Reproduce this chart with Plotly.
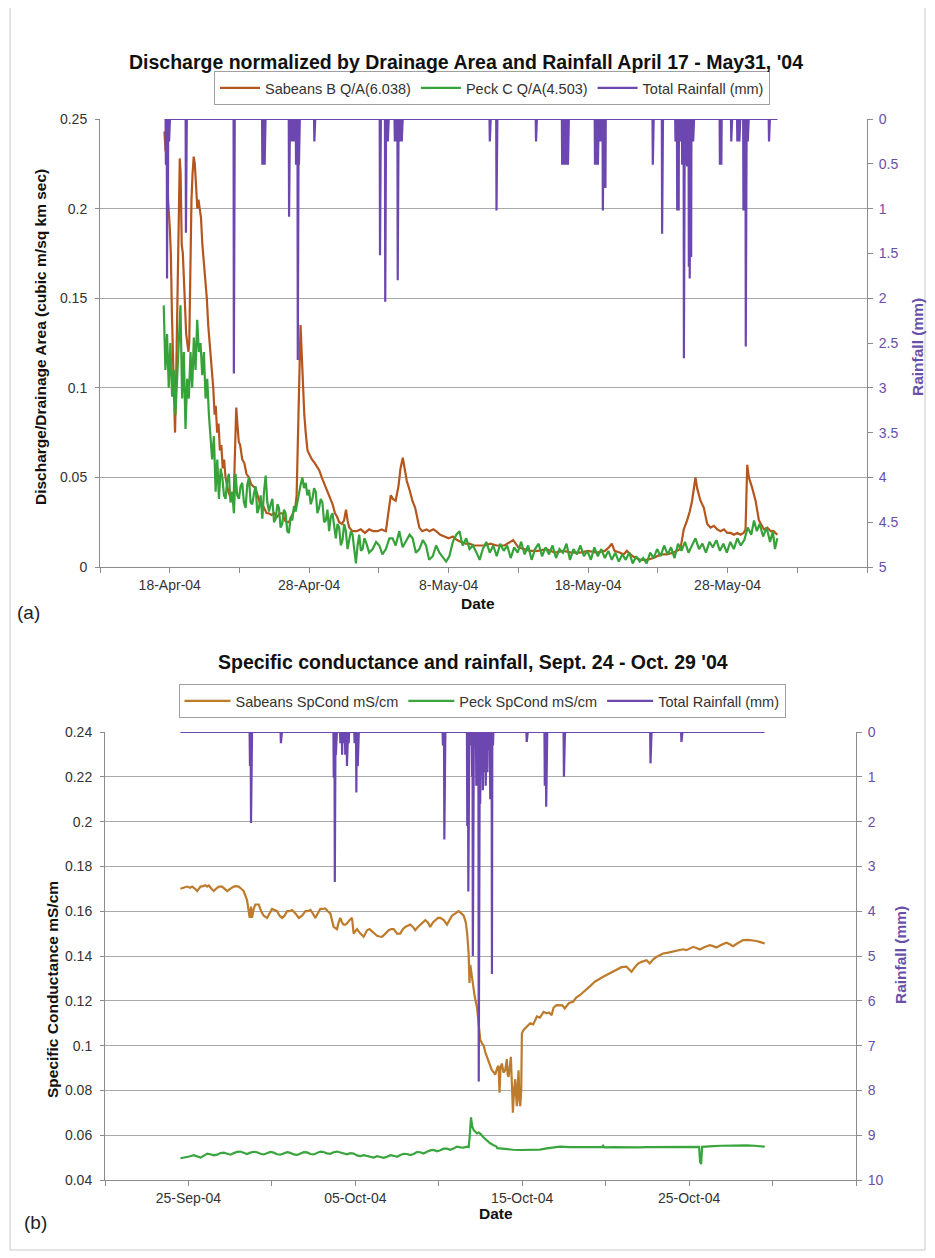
import numpy as np
import pandas as pd
import plotly.graph_objects as go

# ---------------- DATA : panel (a) ----------------
A_ORIGIN = "2004-04-18"           # day offsets below are relative to this date
sab_a_day = [-0.38, -0.30, -0.22, -0.12, 0.00, 0.08, 0.16, 0.26, 0.34, 0.38, 0.45, 0.52, 0.60, 0.66, 0.72, 0.78,
             0.86, 0.94, 1.02, 1.10, 1.18, 1.26, 1.34, 1.40, 1.48, 1.56, 1.64, 1.72, 1.80, 1.90, 1.98, 2.06,
             2.14, 2.24, 2.34, 2.46, 2.56, 2.66, 2.76, 2.86, 2.96, 3.04, 3.12, 3.22, 3.30, 3.40, 3.50, 3.60,
             3.70, 3.80, 3.90, 4.00, 4.10, 4.20, 4.30, 4.40, 4.50, 4.60, 4.70, 4.77, 4.85, 4.95, 5.05, 5.20,
             5.35, 5.50, 5.68, 5.85, 6.00, 6.16, 6.30, 6.45, 6.64, 6.80, 6.95, 7.10, 7.30, 7.50, 7.70, 7.90,
             8.08, 8.25, 8.40, 8.55, 8.70, 8.85, 9.00, 9.10, 9.20, 9.30, 9.38, 9.46, 9.55, 9.65, 9.75, 9.88,
             10.00, 10.20, 10.40, 10.60, 10.72, 10.90, 11.10, 11.30, 11.50, 11.68, 11.85, 12.00, 12.15, 12.35,
             12.50, 12.64, 12.75, 12.87, 13.10, 13.40, 13.70, 14.00, 14.30, 14.60, 14.90, 15.20, 15.50, 15.70,
             15.85, 16.00, 16.20, 16.40, 16.55, 16.71, 16.85, 17.00, 17.20, 17.40, 17.60, 17.75, 17.90, 18.10,
             18.40, 18.63, 18.90, 19.10, 19.40, 19.70, 20.00, 20.30, 20.60, 20.90, 21.20, 21.50, 21.80, 22.20,
             22.60, 23.00, 23.43, 24.00, 24.63, 25.00, 25.40, 25.83, 26.40, 27.03, 27.60, 28.23, 28.80, 29.42,
             30.00, 30.62, 31.20, 31.50, 31.70, 31.90, 32.30, 32.55, 32.78, 33.20, 33.74, 34.20, 34.70, 35.20,
             35.66, 36.10, 36.62, 36.86, 37.10, 37.29, 37.46, 37.70, 37.82, 38.06, 38.30, 38.54, 38.78, 39.02,
             39.26, 39.50, 39.74, 39.98, 40.22, 40.46, 40.70, 40.93, 41.15, 41.29, 41.41, 41.53, 41.77, 42.01,
             42.25, 42.61, 42.85, 43.09, 43.30, 43.45, 43.57]
sab_a_q = [0.243, 0.232, 0.236, 0.205, 0.190, 0.175, 0.140, 0.110, 0.085, 0.075, 0.100, 0.140, 0.185, 0.215, 0.228, 0.220,
           0.180, 0.175, 0.155, 0.145, 0.130, 0.125, 0.120, 0.125, 0.170, 0.205, 0.220, 0.229, 0.225, 0.210, 0.200, 0.205,
           0.200, 0.195, 0.180, 0.170, 0.160, 0.150, 0.135, 0.125, 0.115, 0.110, 0.100, 0.085, 0.090, 0.075, 0.080, 0.065,
           0.068, 0.055, 0.060, 0.050, 0.045, 0.042, 0.040, 0.038, 0.040, 0.042, 0.070, 0.089, 0.080, 0.070, 0.068, 0.060,
           0.058, 0.052, 0.050, 0.046, 0.045, 0.044, 0.040, 0.036, 0.035, 0.032, 0.030, 0.030, 0.029, 0.030, 0.028, 0.030,
           0.030, 0.026, 0.025, 0.025, 0.028, 0.030, 0.033, 0.040, 0.070, 0.110, 0.135, 0.120, 0.100, 0.085, 0.075, 0.065,
           0.063, 0.060, 0.058, 0.055, 0.054, 0.050, 0.046, 0.042, 0.038, 0.035, 0.030, 0.028, 0.025, 0.024,
           0.026, 0.032, 0.026, 0.022, 0.020, 0.020, 0.021, 0.019, 0.021, 0.020, 0.020, 0.021, 0.020, 0.030,
           0.040, 0.038, 0.037, 0.045, 0.055, 0.061, 0.055, 0.048, 0.043, 0.037, 0.033, 0.028, 0.022, 0.020,
           0.021, 0.020, 0.021, 0.020, 0.018, 0.017, 0.016, 0.017, 0.015, 0.014, 0.013, 0.013, 0.012, 0.012,
           0.012, 0.013, 0.012, 0.012, 0.015, 0.011, 0.010, 0.009, 0.009, 0.010, 0.008, 0.009, 0.008, 0.008,
           0.009, 0.008, 0.009, 0.011, 0.013, 0.009, 0.008, 0.007, 0.009, 0.006, 0.004, 0.004, 0.005, 0.007,
           0.007, 0.008, 0.010, 0.021, 0.026, 0.031, 0.037, 0.050, 0.044, 0.037, 0.033, 0.024, 0.022, 0.023,
           0.021, 0.020, 0.021, 0.019, 0.019, 0.018, 0.019, 0.018, 0.019, 0.021, 0.057, 0.050, 0.044, 0.037,
           0.026, 0.021, 0.022, 0.020, 0.020, 0.019, 0.018]

peck_a_day = [-0.43, -0.31, -0.19, -0.07, 0.05, 0.17, 0.29, 0.41, 0.53, 0.65, 0.77, 0.89, 1.01, 1.13, 1.25, 1.37,
              1.49, 1.61, 1.73, 1.85, 1.97, 2.09, 2.21, 2.33, 2.45, 2.57, 2.69, 2.81, 2.93, 3.04, 3.17, 3.29,
              3.41, 3.53, 3.65, 3.77, 3.89, 4.00, 4.12, 4.24, 4.36, 4.48, 4.60, 4.72, 4.84, 4.96, 5.08, 5.20,
              5.32, 5.44, 5.56, 5.68, 5.80, 5.92, 6.04, 6.16, 6.28, 6.40, 6.52, 6.64, 6.76, 6.88, 7.00, 7.12,
              7.24, 7.36, 7.48, 7.60, 7.72, 7.83, 7.95, 8.07, 8.19, 8.31, 8.43, 8.55, 8.67, 8.79, 8.91, 9.03,
              9.15, 9.27, 9.39, 9.51, 9.63, 9.75, 9.87, 9.99, 10.11, 10.23, 10.35, 10.47, 10.59, 10.71, 10.83, 10.95,
              11.07, 11.19, 11.31, 11.43, 11.55, 11.67, 11.79, 11.91, 12.03, 12.15, 12.27, 12.39, 12.51, 12.63, 12.75, 12.87,
              12.99, 13.11, 13.23, 13.35, 13.47, 13.59, 13.71, 13.83, 13.95, 14.07, 14.30, 14.55, 14.80, 15.03, 15.25, 15.50,
              15.75, 15.98, 16.20, 16.46, 16.70, 16.94, 17.20, 17.42, 17.65, 17.90, 18.15, 18.38, 18.60, 18.86, 19.10, 19.34,
              19.60, 19.82, 20.05, 20.30, 20.55, 20.78, 21.00, 21.26, 21.50, 21.74, 22.00, 22.22, 22.45, 22.70, 22.95, 23.20,
              23.45, 23.70, 23.95, 24.20, 24.45, 24.70, 24.95, 25.20, 25.45, 25.70, 25.95, 26.20, 26.45, 26.70, 26.95, 27.20,
              27.45, 27.70, 27.95, 28.20, 28.45, 28.70, 28.95, 29.20, 29.45, 29.70, 29.95, 30.20, 30.45, 30.70, 30.95, 31.20,
              31.45, 31.70, 31.95, 32.20, 32.45, 32.70, 32.95, 33.20, 33.45, 33.70, 33.95, 34.20, 34.45, 34.70, 34.95, 35.20,
              35.45, 35.70, 35.95, 36.20, 36.45, 36.70, 36.95, 37.20, 37.45, 37.70, 37.95, 38.20, 38.45, 38.70, 38.95, 39.20,
              39.45, 39.70, 39.95, 40.20, 40.45, 40.70, 40.95, 41.20, 41.45, 41.70, 41.90, 42.10, 42.30, 42.55, 42.80, 43.05,
              43.25, 43.40, 43.57]
peck_a_q = [0.146, 0.110, 0.130, 0.100, 0.125, 0.095, 0.110, 0.085, 0.105, 0.128, 0.146, 0.094, 0.120, 0.077, 0.105, 0.094,
            0.120, 0.100, 0.128, 0.110, 0.138, 0.120, 0.125, 0.107, 0.120, 0.094, 0.105, 0.085, 0.072, 0.060, 0.073, 0.042,
            0.060, 0.038, 0.055, 0.050, 0.040, 0.038, 0.048, 0.052, 0.036, 0.042, 0.030, 0.052, 0.040, 0.038, 0.045, 0.047,
            0.036, 0.033, 0.046, 0.050, 0.036, 0.035, 0.041, 0.045, 0.030, 0.033, 0.040, 0.027, 0.042, 0.051, 0.036, 0.031,
            0.035, 0.038, 0.025, 0.027, 0.035, 0.033, 0.022, 0.024, 0.032, 0.030, 0.020, 0.019, 0.028, 0.026, 0.034, 0.031,
            0.036, 0.042, 0.046, 0.050, 0.044, 0.047, 0.040, 0.043, 0.035, 0.038, 0.044, 0.042, 0.030, 0.033, 0.038, 0.036,
            0.025, 0.026, 0.032, 0.020, 0.028, 0.030, 0.022, 0.016, 0.024, 0.022, 0.012, 0.015, 0.024, 0.020, 0.010, 0.015,
            0.020, 0.018, 0.008, 0.002, 0.012, 0.018, 0.009, 0.010, 0.016, 0.014, 0.008, 0.010, 0.014, 0.012, 0.007, 0.010,
            0.016, 0.016, 0.012, 0.020, 0.011, 0.014, 0.018, 0.016, 0.008, 0.010, 0.015, 0.012, 0.004, 0.006, 0.012, 0.008,
            0.005, 0.003, 0.006, 0.014, 0.018, 0.020, 0.012, 0.016, 0.010, 0.012, 0.008, 0.004, 0.010, 0.014, 0.008, 0.012,
            0.006, 0.013, 0.009, 0.012, 0.005, 0.011, 0.008, 0.014, 0.007, 0.012, 0.004, 0.010, 0.013, 0.006, 0.011, 0.007,
            0.012, 0.005, 0.010, 0.008, 0.013, 0.004, 0.010, 0.007, 0.012, 0.006, 0.009, 0.004, 0.011, 0.006, 0.010, 0.005,
            0.009, 0.004, 0.008, 0.003, 0.007, 0.004, 0.008, 0.002, 0.006, 0.003, 0.005, 0.002, 0.008, 0.005, 0.010, 0.006,
            0.012, 0.007, 0.011, 0.005, 0.013, 0.009, 0.014, 0.008, 0.012, 0.016, 0.010, 0.013, 0.008, 0.014, 0.011, 0.015,
            0.009, 0.013, 0.008, 0.014, 0.010, 0.016, 0.012, 0.015, 0.022, 0.018, 0.026, 0.020, 0.024, 0.017, 0.022, 0.014,
            0.020, 0.010, 0.016]

rain_a_start, rain_a_end = -0.38, 43.57        # extent of the rainfall record (days)
rain_a_day = [-0.28, -0.19, -0.12, -0.05, 1.17, 4.60, 6.65, 6.72, 6.80,
              8.56, 8.65, 8.75, 8.85, 8.95, 9.05, 9.18, 9.26, 10.36,
              15.08, 15.45, 15.55, 15.65, 16.15, 16.25, 16.35, 16.45, 16.55, 16.65,
              22.95, 23.43, 26.26, 28.15, 28.25, 28.35, 28.45, 28.55,
              30.50, 30.60, 30.70, 30.80, 30.92, 31.05, 31.15, 31.25,
              34.65, 35.30, 36.26, 36.40, 36.50, 36.60, 36.75, 36.86, 37.00, 37.10, 37.22, 37.29, 37.39, 37.53,
              39.45, 39.55, 40.26, 40.70, 40.85, 41.15, 41.30, 41.45, 42.97]
rain_a_mm = [0.51, 1.78, 1.02, 0.25, 1.27, 2.84, 0.51, 0.51, 0.51,
             1.09, 0.25, 0.25, 0.25, 0.25, 0.51, 2.69, 0.51, 0.25,
             1.52, 2.04, 0.25, 0.25, 0.25, 0.25, 1.80, 0.25, 0.25, 0.25,
             0.25, 1.02, 0.25, 0.51, 0.51, 0.51, 0.51, 0.51,
             0.51, 0.51, 0.51, 0.25, 0.25, 1.02, 0.77, 0.77,
             0.51, 1.28, 0.25, 1.02, 1.02, 0.25, 0.51, 2.67, 0.51, 0.53, 1.65, 1.78, 1.54, 0.25,
             0.51, 0.51, 0.25, 0.25, 0.25, 1.02, 2.54, 0.25, 0.25]

a_tick_dates = ["2004-04-13", "2004-04-18", "2004-04-23", "2004-04-28", "2004-05-03", "2004-05-08",
                "2004-05-13", "2004-05-18", "2004-05-23", "2004-05-28", "2004-06-02", "2004-06-07"]
a_tick_text = ["", "18-Apr-04", "", "28-Apr-04", "", "8-May-04", "", "18-May-04", "", "28-May-04", "", ""]

# ---------------- DATA : panel (b) ----------------
B_ORIGIN = "2004-09-25"
sab_b_day = [-0.48, -0.30, -0.08, 0.10, 0.22, 0.40, 0.52, 0.62, 0.72, 0.88, 1.02, 1.12, 1.22, 1.38, 1.52, 1.65,
             1.82, 2.02, 2.15, 2.32, 2.50, 2.71, 2.86, 3.01, 3.16, 3.31, 3.51, 3.67, 3.75, 3.81, 3.91, 4.01,
             4.21, 4.36, 4.51, 4.71, 4.86, 5.01, 5.16, 5.31, 5.46, 5.61, 5.76, 5.91, 6.06, 6.21, 6.41, 6.61,
             6.81, 7.01, 7.16, 7.31, 7.45, 7.60, 7.75, 7.90, 8.05, 8.20, 8.35, 8.50, 8.70, 8.90, 9.00, 9.10,
             9.20, 9.30, 9.40, 9.50, 9.65, 9.80, 9.90, 10.00, 10.10, 10.20, 10.30, 10.50, 10.70, 10.85, 11.00, 11.15,
             11.30, 11.45, 11.60, 11.80, 12.00, 12.15, 12.30, 12.50, 12.69, 12.85, 12.99, 13.14, 13.29, 13.45, 13.59, 13.75,
             13.89, 14.05, 14.19, 14.35, 14.49, 14.65, 14.79, 14.95, 15.09, 15.30, 15.49, 15.65, 15.79, 16.00, 16.19, 16.35,
             16.49, 16.62, 16.70, 16.79, 16.84, 16.89, 16.95, 17.05, 17.15, 17.29, 17.39, 17.49, 17.59, 17.69, 17.79, 17.89,
             18.05, 18.18, 18.30, 18.38, 18.50, 18.58, 18.64, 18.70, 18.78, 18.88, 18.98, 19.08, 19.13, 19.18, 19.25, 19.32,
             19.38, 19.44, 19.51, 19.58, 19.63, 19.68, 19.73, 19.78, 19.83, 19.88, 19.94, 19.98, 20.08, 20.30, 20.48, 20.66,
             20.88, 21.06, 21.28, 21.46, 21.60, 21.76, 21.88, 22.06, 22.26, 22.40, 22.55, 22.80, 23.05, 23.25, 23.45, 23.65,
             23.85, 24.10, 24.35, 24.60, 24.85, 25.05, 25.25, 25.45, 25.65, 25.95, 26.25, 26.40, 26.55, 26.75, 26.95, 27.20,
             27.45, 27.64, 27.85, 28.04, 28.24, 28.44, 28.74, 29.04, 29.24, 29.44, 29.64, 29.84, 30.04, 30.24, 30.44, 30.64,
             30.94, 31.24, 31.44, 31.64, 31.94, 32.24, 32.44, 32.63, 32.93, 33.23, 33.53, 33.83, 34.03, 34.23, 34.40, 34.53]
sab_b_sc = [0.1700, 0.1705, 0.1710, 0.1705, 0.1710, 0.1700, 0.1690, 0.1700, 0.1710, 0.1712, 0.1716, 0.1710, 0.1715, 0.1700, 0.1690, 0.1700,
            0.1710, 0.1710, 0.1700, 0.1690, 0.1700, 0.1710, 0.1712, 0.1710, 0.1700, 0.1690, 0.1650, 0.1570, 0.1620, 0.1570, 0.1610, 0.1630,
            0.1630, 0.1600, 0.1580, 0.1570, 0.1590, 0.1610, 0.1605, 0.1600, 0.1580, 0.1570, 0.1580, 0.1600, 0.1600, 0.1605, 0.1590, 0.1570,
            0.1580, 0.1600, 0.1600, 0.1606, 0.1590, 0.1570, 0.1590, 0.1610, 0.1610, 0.1612, 0.1600, 0.1590, 0.1530, 0.1520, 0.1550, 0.1570,
            0.1550, 0.1540, 0.1540, 0.1545, 0.1560, 0.1570, 0.1500, 0.1510, 0.1520, 0.1510, 0.1500, 0.1486, 0.1515, 0.1520, 0.1510, 0.1500,
            0.1490, 0.1487, 0.1486, 0.1500, 0.1515, 0.1520, 0.1520, 0.1500, 0.1500, 0.1520, 0.1530, 0.1535, 0.1540, 0.1530, 0.1515, 0.1530,
            0.1540, 0.1550, 0.1560, 0.1550, 0.1530, 0.1550, 0.1560, 0.1570, 0.1570, 0.1560, 0.1540, 0.1560, 0.1580, 0.1590, 0.1600, 0.1590,
            0.1580, 0.1550, 0.1500, 0.1410, 0.1280, 0.1360, 0.1330, 0.1260, 0.1220, 0.1170, 0.1100, 0.1025, 0.1010, 0.1000, 0.0970, 0.0950,
            0.0910, 0.0890, 0.0880, 0.0870, 0.0900, 0.0910, 0.0790, 0.0900, 0.0920, 0.0880, 0.0890, 0.0940, 0.0870, 0.0860, 0.0900, 0.0950,
            0.0830, 0.0700, 0.0800, 0.0850, 0.0780, 0.0730, 0.0820, 0.0890, 0.0760, 0.0730, 0.0800, 0.1055, 0.1070, 0.1085, 0.1100, 0.1095,
            0.1130, 0.1125, 0.1150, 0.1144, 0.1148, 0.1136, 0.1170, 0.1181, 0.1181, 0.1180, 0.1166, 0.1190, 0.1196, 0.1215, 0.1225, 0.1238,
            0.1248, 0.1268, 0.1285, 0.1298, 0.1307, 0.1315, 0.1322, 0.1330, 0.1337, 0.1350, 0.1352, 0.1340, 0.1329, 0.1350, 0.1367, 0.1375,
            0.1381, 0.1367, 0.1385, 0.1396, 0.1404, 0.1411, 0.1415, 0.1419, 0.1423, 0.1426, 0.1430, 0.1426, 0.1435, 0.1441, 0.1436, 0.1429,
            0.1440, 0.1448, 0.1444, 0.1438, 0.1450, 0.1459, 0.1452, 0.1444, 0.1458, 0.1471, 0.1472, 0.1471, 0.1467, 0.1463, 0.1460, 0.1456]

peck_b_day = [-0.48, -0.20, 0.05, 0.32, 0.52, 0.72, 0.92, 1.12, 1.32, 1.52, 1.72, 1.92, 2.12, 2.32, 2.52, 2.72,
              2.92, 3.11, 3.31, 3.51, 3.71, 3.91, 4.11, 4.31, 4.51, 4.71, 4.91, 5.11, 5.31, 5.51, 5.71, 5.91,
              6.11, 6.31, 6.51, 6.71, 6.91, 7.11, 7.31, 7.51, 7.71, 7.90, 8.10, 8.30, 8.50, 8.70, 8.90, 9.10,
              9.30, 9.50, 9.70, 9.90, 10.10, 10.30, 10.50, 10.70, 10.90, 11.10, 11.30, 11.50, 11.70, 11.90, 12.10, 12.30,
              12.50, 12.70, 12.90, 13.09, 13.29, 13.49, 13.69, 13.89, 14.09, 14.29, 14.49, 14.69, 14.89, 15.09, 15.29, 15.49,
              15.69, 15.89, 16.09, 16.29, 16.49, 16.69, 16.79, 16.86, 16.93, 17.00, 17.09, 17.19, 17.29, 17.39, 17.47, 17.66,
              17.86, 18.06, 18.26, 18.46, 18.50, 18.70, 19.06, 19.46, 19.86, 20.26, 20.66, 21.06, 21.46, 21.86, 22.26, 22.86,
              23.45, 24.15, 24.80, 24.85, 24.92, 25.45, 25.95, 26.45, 26.95, 27.45, 27.95, 28.44, 28.94, 29.44, 29.84, 30.24,
              30.60, 30.66, 30.72, 30.78, 31.04, 31.44, 31.94, 32.44, 32.94, 33.43, 33.93, 34.23, 34.53]
peck_b_sc = [0.0497, 0.0500, 0.0505, 0.0511, 0.0506, 0.0500, 0.0508, 0.0518, 0.0515, 0.0510, 0.0513, 0.0520, 0.0522, 0.0516, 0.0513, 0.0520,
             0.0526, 0.0527, 0.0520, 0.0516, 0.0522, 0.0526, 0.0524, 0.0517, 0.0514, 0.0520, 0.0525, 0.0522, 0.0515, 0.0513, 0.0519, 0.0524,
             0.0521, 0.0514, 0.0512, 0.0518, 0.0524, 0.0523, 0.0516, 0.0514, 0.0521, 0.0527, 0.0525, 0.0519, 0.0517, 0.0524, 0.0527, 0.0522,
             0.0517, 0.0515, 0.0520, 0.0518, 0.0510, 0.0507, 0.0511, 0.0508, 0.0502, 0.0500, 0.0506, 0.0504, 0.0499, 0.0504, 0.0511, 0.0508,
             0.0504, 0.0512, 0.0517, 0.0516, 0.0511, 0.0516, 0.0525, 0.0524, 0.0518, 0.0526, 0.0532, 0.0534, 0.0528, 0.0533, 0.0540, 0.0540,
             0.0535, 0.0541, 0.0549, 0.0546, 0.0545, 0.0549, 0.0547, 0.0600, 0.0680, 0.0640, 0.0623, 0.0615, 0.0608, 0.0612, 0.0608, 0.0592,
             0.0578, 0.0565, 0.0556, 0.0549, 0.0542, 0.0540, 0.0537, 0.0535, 0.0534, 0.0534, 0.0534, 0.0536, 0.0541, 0.0544, 0.0549, 0.0547,
             0.0548, 0.0546, 0.0547, 0.0553, 0.0546, 0.0547, 0.0546, 0.0545, 0.0546, 0.0547, 0.0547, 0.0548, 0.0547, 0.0549, 0.0549, 0.0549,
             0.0548, 0.0480, 0.0471, 0.0548, 0.0550, 0.0551, 0.0553, 0.0554, 0.0554, 0.0555, 0.0553, 0.0551, 0.0549]

rain_b_start, rain_b_end = -0.48, 34.53
rain_b_day = [3.68, 3.74, 5.55, 8.70, 8.78, 8.84, 9.10, 9.20, 9.30, 9.40, 9.50, 9.60, 9.95, 10.06, 10.14,
              15.25, 15.33, 16.70, 16.76, 16.82, 16.90, 17.00, 17.05, 17.12, 17.25, 17.40, 17.48,
              17.58, 17.65, 17.72, 17.82, 17.92, 18.00, 18.08, 18.18, 18.24,
              20.26, 21.35, 21.43, 22.50, 27.68, 29.54]
rain_b_mm = [0.76, 2.03, 0.25, 1.02, 3.35, 0.51, 0.25, 0.51, 0.25, 0.51, 0.76, 0.25, 0.25, 1.35, 0.76,
             0.30, 2.40, 2.10, 3.56, 2.30, 0.30, 1.00, 5.00, 0.30, 1.20, 7.80, 1.60,
             0.30, 1.30, 0.90, 1.20, 0.90, 0.40, 1.50, 5.40, 0.30,
             0.22, 1.20, 1.67, 1.00, 0.70, 0.22]

b_tick_dates = ["2004-09-20", "2004-09-25", "2004-09-30", "2004-10-05", "2004-10-10",
                "2004-10-15", "2004-10-20", "2004-10-25", "2004-10-30", "2004-11-04"]
b_tick_text = ["", "25-Sep-04", "", "05-Oct-04", "", "15-Oct-04", "", "25-Oct-04", "", ""]

# ---------------- helpers ----------------
def to_time(origin, days):
    return pd.Timestamp(origin) + pd.to_timedelta(np.asarray(days, dtype=float), unit="D")

def rain_record(origin, start, end, ev_day, ev_mm, step=1.0 / 48):
    n = int(round((end - start) / step)) + 1
    vals = np.zeros(n)
    for d, mm in zip(ev_day, ev_mm):
        i = int(round((d - start) / step))
        vals[i] = max(vals[i], mm)
    return to_time(origin, start + np.arange(n) * step), vals

# page offset: the browser places the figure 8 px from the window's top-left corner
OFF = 8
W, H = 927, 1250
def px(x): return (x - OFF) / W
def py(y): return 1 - (y - OFF) / H

FONT = "Liberation Sans, Arial, sans-serif"
PURPLE = "#6c47b0"
PURPLE_TXT = "#6a4fa8"
GRID = "#a8a8a8"
AXIS = "#8c8c8c"
TXT = "#333333"

fig = go.Figure()

# panel (a)
fig.add_trace(go.Scatter(x=to_time(A_ORIGIN, sab_a_day), y=sab_a_q, mode="lines",
                         name="Sabeans B Q/A(6.038)", line=dict(color="#b5561e", width=2.2),
                         xaxis="x", yaxis="y", legend="legend"))
fig.add_trace(go.Scatter(x=to_time(A_ORIGIN, peck_a_day), y=peck_a_q, mode="lines",
                         name="Peck C Q/A(4.503)", line=dict(color="#36a23a", width=2.2),
                         xaxis="x", yaxis="y", legend="legend"))
ta, ra = rain_record(A_ORIGIN, rain_a_start, rain_a_end, rain_a_day, rain_a_mm)
fig.add_trace(go.Scatter(x=ta, y=ra, mode="lines", name="Total Rainfall (mm)",
                         line=dict(color=PURPLE, width=2.2), xaxis="x", yaxis="y2", legend="legend"))

# panel (b)
fig.add_trace(go.Scatter(x=to_time(B_ORIGIN, sab_b_day), y=sab_b_sc, mode="lines",
                         name="Sabeans SpCond mS/cm", line=dict(color="#bd7b2b", width=2.2),
                         xaxis="x2", yaxis="y3", legend="legend2"))
fig.add_trace(go.Scatter(x=to_time(B_ORIGIN, peck_b_day), y=peck_b_sc, mode="lines",
                         name="Peck SpCond mS/cm", line=dict(color="#3aa53e", width=2.2),
                         xaxis="x2", yaxis="y3", legend="legend2"))
tb, rb = rain_record(B_ORIGIN, rain_b_start, rain_b_end, rain_b_day, rain_b_mm)
fig.add_trace(go.Scatter(x=tb, y=rb, mode="lines", name="Total Rainfall (mm)",
                         line=dict(color=PURPLE, width=2.2), xaxis="x2", yaxis="y4", legend="legend2"))

tickfont = dict(family=FONT, size=14, color=TXT)
ptickfont = dict(family=FONT, size=14, color=PURPLE_TXT)

def xaxis_cfg(dom, anchor, rng, tv, tt):
    return dict(domain=dom, anchor=anchor, range=rng, tickmode="array", tickvals=tv, ticktext=tt,
                ticks="outside", ticklen=5, tickcolor=AXIS, showline=True, linecolor=AXIS, linewidth=1,
                showgrid=False, zeroline=False, tickfont=tickfont, automargin=False)

def yleft_cfg(dom, anchor, rng, dt):
    return dict(domain=dom, anchor=anchor, range=rng, dtick=dt, tick0=0, ticks="outside", ticklen=4,
                tickcolor=AXIS, showline=True, linecolor=AXIS, showgrid=True, gridcolor=GRID, gridwidth=1,
                zeroline=False, tickfont=tickfont, automargin=False, ticklabelstandoff=5)

def yright_cfg(over, anchor, rng, dt):
    return dict(overlaying=over, anchor=anchor, side="right", range=rng, dtick=dt, tick0=0,
                ticks="outside", ticklen=5, tickcolor=AXIS, showline=True, linecolor=AXIS,
                showgrid=False, zeroline=False, tickfont=ptickfont, automargin=False, ticklabelstandoff=3)

ya = [py(567), py(119)]
yb = [py(1180), py(732)]
LEGFONT = dict(family=FONT, size=14.5, color=TXT)
fig.update_layout(
    width=W, height=H, margin=dict(l=0, r=0, t=0, b=0, autoexpand=False),
    paper_bgcolor="white", plot_bgcolor="white", showlegend=True,
    xaxis=xaxis_cfg([px(100), px(867)], "y", ["2004-04-13", "2004-06-07"], a_tick_dates, a_tick_text),
    yaxis=yleft_cfg(ya, "x", [0, 0.25], 0.05),
    yaxis2=yright_cfg("y", "x", [5, 0], 0.5),
    xaxis2=xaxis_cfg([px(105), px(856)], "y3", ["2004-09-20", "2004-11-04"], b_tick_dates, b_tick_text),
    yaxis3=yleft_cfg(yb, "x2", [0.04, 0.24], 0.02),
    yaxis4=yright_cfg("y3", "x2", [10, 0], 1),
    legend=dict(orientation="h", x=px(492), y=py(88), xanchor="center", yanchor="middle",
                bordercolor="#a0a0a0", borderwidth=1, bgcolor="white", font=LEGFONT, itemwidth=40),
    legend2=dict(orientation="h", x=px(482), y=py(701), xanchor="center", yanchor="middle",
                 bordercolor="#a0a0a0", borderwidth=1, bgcolor="white", font=LEGFONT, itemwidth=46),
)

def ann(text, x, y, size=13, bold=False, color=TXT, angle=0):
    t = f"<b>{text}</b>" if bold else text
    fig.add_annotation(text=t, x=px(x), y=py(y), xref="paper", yref="paper", showarrow=False,
                       xanchor="center", yanchor="middle", textangle=angle,
                       font=dict(family=FONT, size=size, color=color))

ann("Discharge normalized by Drainage Area and Rainfall April 17 - May31, '04", 466, 62, 19.5, True, "#111111")
ann("Specific conductance and rainfall, Sept. 24 - Oct. 29 '04", 473, 662, 19.5, True, "#111111")
ann("Discharge/Drainage Area (cubic m/sq km sec)", 40, 337, 15.5, True, "#111111", -90)
ann("Rainfall (mm)", 917, 347, 15.5, True, PURPLE_TXT, -90)
ann("Specific Conductance mS/cm", 52, 990, 15.5, True, "#111111", -90)
ann("Rainfall (mm)", 900, 955, 15.5, True, PURPLE_TXT, -90)
ann("Date", 478, 603, 15.5, True, "#111111")
ann("Date", 496, 1213, 15.5, True, "#111111")
ann("(a)", 28, 612, 19, False, "#222222")
ann("(b)", 35, 1222, 19, False, "#222222")

fig.add_shape(type="rect", xref="paper", yref="paper", x0=px(10), x1=px(925), y0=py(1250), y1=py(6),
              line=dict(color="#c8c8c8", width=1), layer="below")

fig.write_html("out.html")
